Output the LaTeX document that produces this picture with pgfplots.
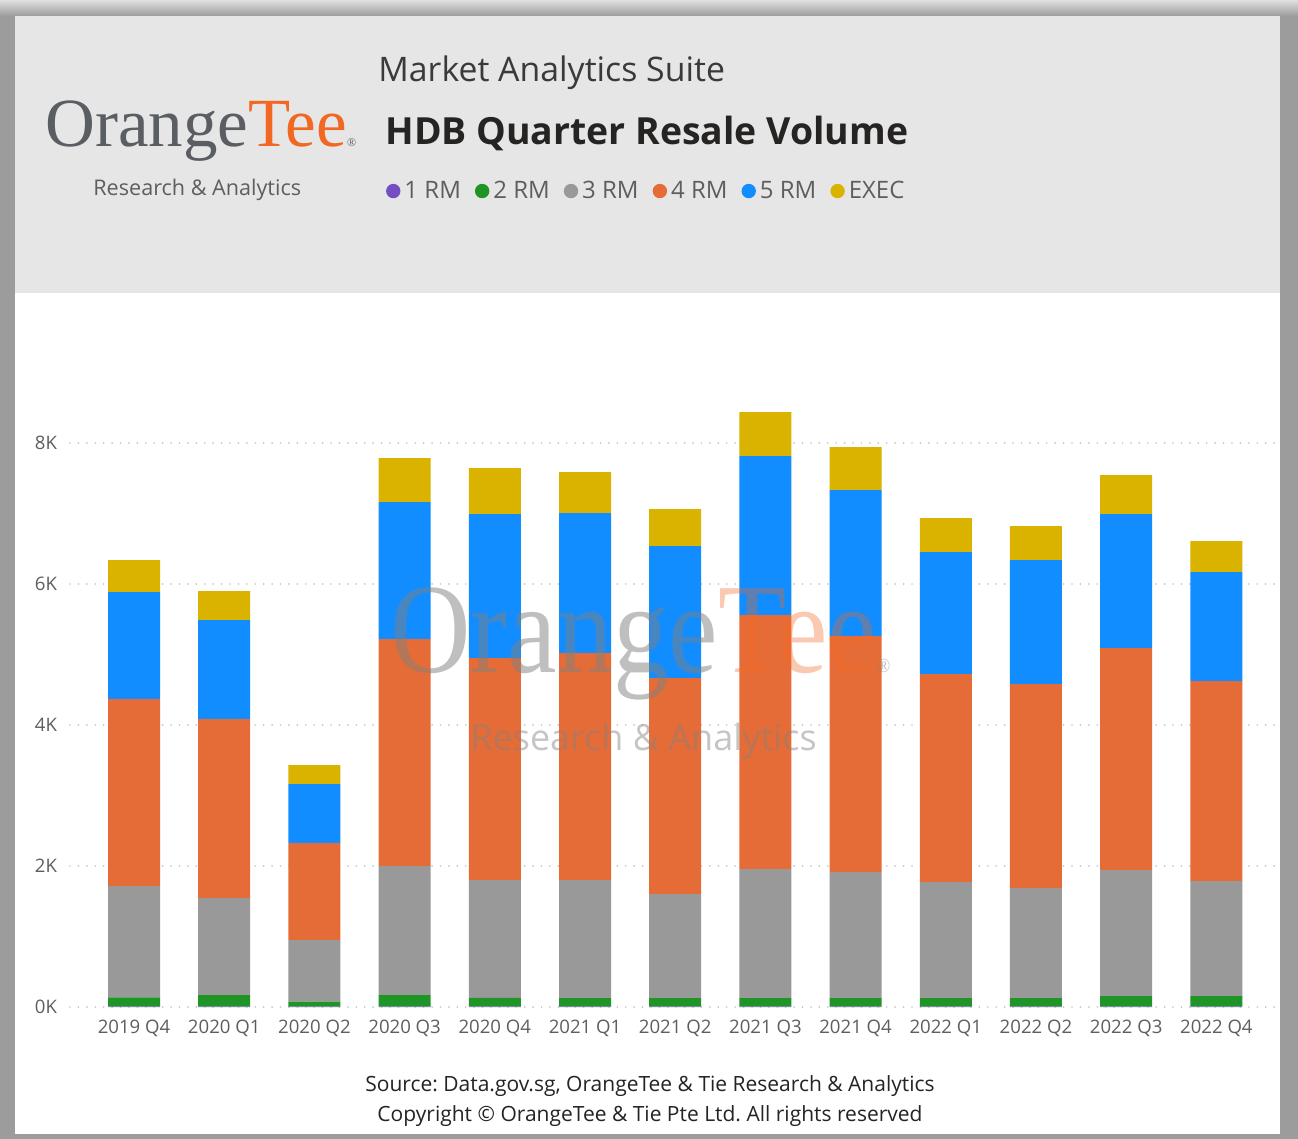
\documentclass[border=0pt]{standalone}
\usepackage{pgfplots}
\pgfplotsset{compat=1.18}
\usepackage{pgfplotstable}
\usepackage{fontspec}
\setmainfont{Open Sans}
\newfontfamily\logofont{Liberation Serif}
\newfontfamily\marklogofont[FakeStretch=0.87]{Liberation Serif}
\frenchspacing
\definecolor{rmone}{HTML}{744EC2}
\definecolor{rmtwo}{HTML}{1F9427}
\definecolor{rmthree}{HTML}{999999}
\definecolor{rmfour}{HTML}{E66C37}
\definecolor{rmfive}{HTML}{118DFF}
\definecolor{rmexec}{HTML}{D9B300}
\definecolor{txtdark}{HTML}{252423}
\definecolor{txtgray}{HTML}{605E5C}
\definecolor{logogray}{HTML}{5A5D62}
\definecolor{logoorange}{HTML}{F26722}
\definecolor{headbg}{HTML}{E6E6E6}
\definecolor{framegray}{HTML}{9C9C9C}

% quarter, 1 RM, 2 RM, 3 RM, 4 RM, 5 RM, EXEC
\pgfplotstableread{
x  r1  r2   r3   r4   r5   ex
0  5  130 1581 2652 1517 453
1  5  165 1376 2538 1404 411
2  5   70  875 1376  836 270
3  5  165 1830 3218 1943 624
4  5  125 1671 3148 2042 652
5  5  120 1676 3219 1985 581
6  5  120 1477 3063 1872 525
7  5  120 1832 3602 2254 624
8  5  120 1789 3347 2070 610
9  5  120 1648 2949 1730 482
10 5  120 1562 2893 1758 483
11 5  150 1788 3148 1900 553
12 5  150 1632 2836 1545 440
}\resale

\begin{document}
\begin{tikzpicture}
\useasboundingbox (0,0) rectangle (649pt,-569.5pt);
% frame and header
\fill[framegray] (0,0) rectangle (649pt,-569.5pt);
\shade[top color=gray!25, bottom color=framegray] (0,0) rectangle (649pt,-8pt);
\fill[white] (7.5pt,-8pt) rectangle (640pt,-567pt);
\fill[headbg] (7.5pt,-8pt) rectangle (640pt,-146.5pt);

% logo
\node[anchor=base west, inner sep=0pt, font=\logofont\fontsize{34.5}{36}\selectfont]
  at (22.5pt,-73.5pt) {\textcolor{logogray}{Orange}\textcolor{logoorange}{Tee}\textcolor{logogray}{\fontsize{6}{6}\selectfont\textregistered}};
\node[anchor=base west, inner sep=0pt, text=txtgray, font=\fontsize{10.8}{12}\selectfont]
  at (46.5pt,-98pt) {Research \& Analytics};

% titles
\node[anchor=base west, inner sep=0pt, text=txtdark!90, font=\fontsize{16.9}{18}\selectfont]
  at (189pt,-41pt) {Market Analytics Suite};
\node[anchor=base west, inner sep=0pt, text=txtdark, font=\bfseries\fontsize{18.7}{20}\selectfont]
  at (192.5pt,-72.5pt) {HDB Quarter Resale Volume};

\begin{axis}[
  at={(35pt,-503.5pt)}, anchor=south west,
  scale only axis, width=602.5pt, height=317.25pt,
  ybar stacked, bar width=26pt,
  xmin=-0.71, xmax=12.65, ymin=0, ymax=9000,
  axis line style={draw=none},
  major tick length=0pt,
  xtick=data,
  xticklabels={2019 Q4,2020 Q1,2020 Q2,2020 Q3,2020 Q4,2021 Q1,2021 Q2,2021 Q3,2021 Q4,2022 Q1,2022 Q2,2022 Q3,2022 Q4},
  ytick={0,2000,4000,6000,8000},
  yticklabels={0K,2K,4K,6K,8K},
  ticklabel style={text=txtgray, font=\fontsize{9.3}{11}\selectfont},
  yticklabel style={xshift=-3pt},
  xticklabel style={yshift=-3pt},
  ymajorgrids=true,
  grid style={draw=gray!45, line width=0.9pt, dash pattern=on 0.01pt off 4.2pt, line cap=round},
  legend columns=6,
  legend style={at={(0.257,1.286)}, anchor=west, draw=none, fill=none,
    font=\fontsize{12}{14}\selectfont, text=txtgray,
    /tikz/every even column/.append style={column sep=5pt}},
  legend image code/.code={\fill[#1] (0.3em,0pt) circle (3.6pt);},
]
\addplot[fill=rmone, draw=none] table[x=x, y=r1] {\resale};
\addplot[fill=rmtwo, draw=none] table[x=x, y=r2] {\resale};
\addplot[fill=rmthree, draw=none] table[x=x, y=r3] {\resale};
\addplot[fill=rmfour, draw=none] table[x=x, y=r4] {\resale};
\addplot[fill=rmfive, draw=none] table[x=x, y=r5] {\resale};
\addplot[fill=rmexec, draw=none] table[x=x, y=ex] {\resale};
\legend{1 RM,2 RM,3 RM,4 RM,5 RM,EXEC}
\end{axis}

% watermark
\node[anchor=base west, inner sep=0pt, font=\marklogofont\fontsize{64}{66}\selectfont]
  at (195pt,-336.5pt) {\textcolor{gray}{\pgfsetfillopacity{0.5}Orange}\textcolor{logoorange}{\pgfsetfillopacity{0.35}Tee}\textcolor{gray}{\pgfsetfillopacity{0.5}\fontsize{10}{10}\selectfont\textregistered}};
\node[anchor=base west, inner sep=0pt, opacity=0.45, text=gray, font=\fontsize{18}{20}\selectfont]
  at (235pt,-375pt) {Research \& Analytics};

% footer
\node[anchor=base, inner sep=0pt, text=txtdark, font=\fontsize{10.5}{12}\selectfont]
  at (325pt,-545.5pt) {Source: Data.gov.sg, OrangeTee \& Tie Research \& Analytics};
\node[anchor=base, inner sep=0pt, text=txtdark, font=\fontsize{10.5}{12}\selectfont]
  at (325pt,-560.5pt) {Copyright \textcopyright{} OrangeTee \& Tie Pte Ltd. All rights reserved};
\end{tikzpicture}
\end{document}
